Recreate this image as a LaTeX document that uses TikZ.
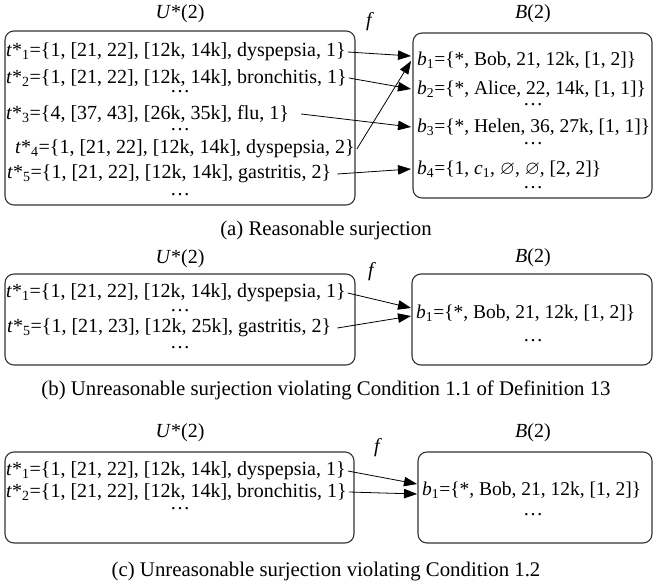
\documentclass[tikz,border=0pt]{standalone}
\usepackage{fontspec}
\usepackage{amssymb}
\setmainfont{Liberation Serif}
\usetikzlibrary{arrows.meta}
\newcommand\tst[1]{\textit{t}*\textsubscript{#1}}
\newcommand\bst[1]{\textit{b}\textsubscript{#1}}
\begin{document}
\begin{tikzpicture}[x=1pt,y=-1pt,
  font=\fontsize{20}{22}\selectfont,
  box/.style={draw=black!80, line width=1.1pt, rounded corners=9pt},
  row/.style={anchor=west, inner sep=2pt},
  brow/.style={anchor=west, inner sep=2pt, font=\fontsize{19.5}{22}\selectfont},
  lbl/.style={inner sep=0pt},
  captext/.style={inner sep=0pt, font=\fontsize{20.8}{22}\selectfont},
  dotn/.style={inner sep=0pt},
  arr/.style={-{Triangle[length=13pt,width=9.5pt]}, line width=0.8pt}]
\useasboundingbox (0,0) rectangle (653,585);

% ---------------- (a) ----------------
\node[lbl] (Ua) at (180,14) {\textit{U}*(2)};
\node[lbl] (Ba) at (533,14) {\textit{B}(2)};
\node[lbl] (fa) at (370,22) {\textit{f}};
\draw[box] (5,31) rectangle (355,205);
\draw[box] (413,33) rectangle (652,198);
\node[row] (a1) at (4,52) {\tst{1}=\{1, [21, 22], [12k, 14k], dyspepsia, 1\}};
\node[row] (a2) at (4,78) {\tst{2}=\{1, [21, 22], [12k, 14k], bronchitis, 1\}};
\node[dotn] (ad1) at (180,92) {…};
\node[row] (a3) at (4,114) {\tst{3}=\{4, [37, 43], [26k, 35k], flu, 1\}};
\node[dotn] (ad2) at (180,130) {…};
\node[row] (a4) at (13,149) {\tst{4}=\{1, [21, 22], [12k, 14k], dyspepsia, 2\}};
\node[row] (a5) at (5,174) {\tst{5}=\{1, [21, 22], [12k, 14k], gastritis, 2\}};
\node[dotn] (ad3) at (180,195) {…};

\node[brow] (b1) at (415,60) {\bst{1}=\{*, Bob, 21, 12k, [1, 2]\}};
\node[brow] (b2) at (415,89) {\bst{2}=\{*, Alice, 22, 14k, [1, 1]\}};
\node[dotn] (bd1) at (533,105) {…};
\node[brow] (b3) at (415,127) {\bst{3}=\{*, Helen, 36, 27k, [1, 1]\}};
\node[dotn] (bd2) at (533,144) {…};
\node[brow] (b4) at (415,169) {\bst{4}=\{1, \textit{c}\textsubscript{1}, $\varnothing$, $\varnothing$, [2, 2]\}};
\node[dotn] (bd3) at (533,188) {…};

\draw[arr] (a1.east) -- ([xshift=-4pt,yshift=4pt]b1.west);
\draw[arr] (a2.east) -- ([xshift=-4pt]b2.west);
\draw[arr] ([xshift=10pt]a3.east) -- ([xshift=-4pt]b3.west);
\draw[arr] (a4.east) -- ([xshift=-4pt,yshift=-1pt]b1.west);
\draw[arr] ([xshift=4pt]a5.east) -- ([xshift=-4pt]b4.west);

\node[captext] (capa) at (326,230) {(a) Reasonable surjection};

% ---------------- (b) ----------------
\node[lbl] (Ub) at (180,259) {\textit{U}*(2)};
\node[lbl] (Bb) at (533,258) {\textit{B}(2)};
\node[lbl] (fb) at (372,272) {\textit{f}};
\draw[box] (5,274) rectangle (355,365);
\draw[box] (412,274) rectangle (652,365);
\node[row] (c1) at (4,293) {\tst{1}=\{1, [21, 22], [12k, 14k], dyspepsia, 1\}};
\node[dotn] (cd1) at (180,311) {…};
\node[row] (c5) at (5,328) {\tst{5}=\{1, [21, 23], [12k, 25k], gastritis, 2\}};
\node[dotn] (cd2) at (180,348) {…};
\node[brow] (d1) at (414,313) {\bst{1}=\{*, Bob, 21, 12k, [1, 2]\}};
\node[dotn] (dd1) at (533,341) {…};
\draw[arr] (c1.east) -- ([xshift=-3pt,yshift=5pt]d1.west);
\draw[arr] ([xshift=4pt]c5.east) -- ([xshift=-3pt,yshift=-3pt]d1.west);

\node[captext] (capb) at (326,390) {(b) Unreasonable surjection violating Condition 1.1 of Definition 13};

% ---------------- (c) ----------------
\node[lbl] (Uc) at (180,433) {\textit{U}*(2)};
\node[lbl] (Bc) at (533,433) {\textit{B}(2)};
\node[lbl] (fc) at (378,448) {\textit{f}};
\draw[box] (5,452) rectangle (354,543);
\draw[box] (418,452) rectangle (652,543);
\node[row] (e1) at (4,471) {\tst{1}=\{1, [21, 22], [12k, 14k], dyspepsia, 1\}};
\node[row] (e2) at (4,492) {\tst{2}=\{1, [21, 22], [12k, 14k], bronchitis, 1\}};
\node[dotn] (ed1) at (180,509) {…};
\node[brow] (g1) at (420,490) {\bst{1}=\{*, Bob, 21, 12k, [1, 2]\}};
\node[dotn] (gd1) at (533,515) {…};
\draw[arr] (e1.east) -- ([xshift=-3pt,yshift=6pt]g1.west);
\draw[arr] (e2.east) -- ([xshift=-3pt,yshift=-4pt]g1.west);

\node[captext] (capc) at (326,572) {(c) Unreasonable surjection violating Condition 1.2};
\end{tikzpicture}
\end{document}
